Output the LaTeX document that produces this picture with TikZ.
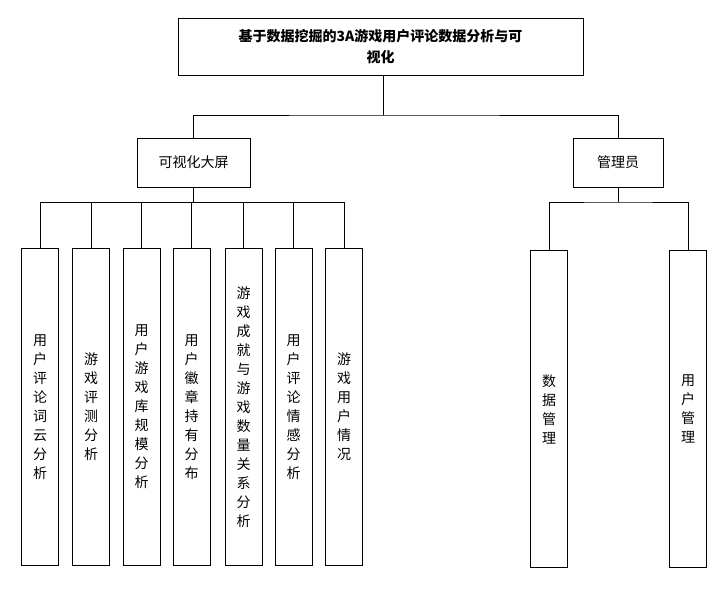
\documentclass[tikz,border=0pt]{standalone}
\usepackage{fontspec}
\setmainfont{Noto Sans CJK SC}
\begin{document}
\begin{tikzpicture}[x=1pt,y=-1pt,
  box/.style={draw,line width=0.8pt,inner sep=0pt,align=center,font=\fontsize{14}{19}\selectfont},
  vbox/.style={box,minimum width=37,minimum height=317,text width=16},
  ln/.style={line width=0.8pt}]
\useasboundingbox (0,0) rectangle (728,591);
\node[box,minimum width=405,minimum height=57,font=\bfseries\fontsize{14}{21}\selectfont] (root) at (380.5,46.5) {基于数据挖掘的3A游戏用户评论数据分析与可\\视化};
\node[box,minimum width=113,minimum height=49] (vis) at (193.5,162.5) {可视化大屏};
\node[box,minimum width=90,minimum height=49] (adm) at (618,162.5) {管理员};
\node[vbox] (a1) at (40,407) {用\\户\\评\\论\\词\\云\\分\\析};
\node[vbox] (a2) at (91,407) {游\\戏\\评\\测\\分\\析};
\node[vbox] (a3) at (141.5,407) {用\\户\\游\\戏\\库\\规\\模\\分\\析};
\node[vbox] (a4) at (191.5,407) {用\\户\\徽\\章\\持\\有\\分\\布};
\node[vbox] (a5) at (243.5,407) {游\\戏\\成\\就\\与\\游\\戏\\数\\量\\关\\系\\分\\析};
\node[vbox] (a6) at (293.5,407) {用\\户\\评\\论\\情\\感\\分\\析};
\node[vbox] (a7) at (344,407) {游\\戏\\用\\户\\情\\况};
\node[vbox] (b1) at (549,409) {数\\据\\管\\理};
\node[vbox] (b2) at (688,409) {用\\户\\管\\理};
\coordinate (j0) at (383,115);
\draw[ln] (root.south -| j0) -- (j0);
\draw[ln] (vis.north) |- (j0) -| (adm.north);
\coordinate (j1) at (193.5,202);
\draw[ln] (vis.south) -- (j1);
\foreach \n in {a1,a2,a3,a4,a5,a6,a7} \draw[ln] (\n.north) -- (\n.north |- j1);
\draw[ln] (a1.north |- j1) -- (a7.north |- j1);
\coordinate (j2) at (618,202);
\draw[ln] (adm.south) -- (j2);
\draw[ln] (b1.north) |- (j2) -| (b2.north);
\end{tikzpicture}
\end{document}
